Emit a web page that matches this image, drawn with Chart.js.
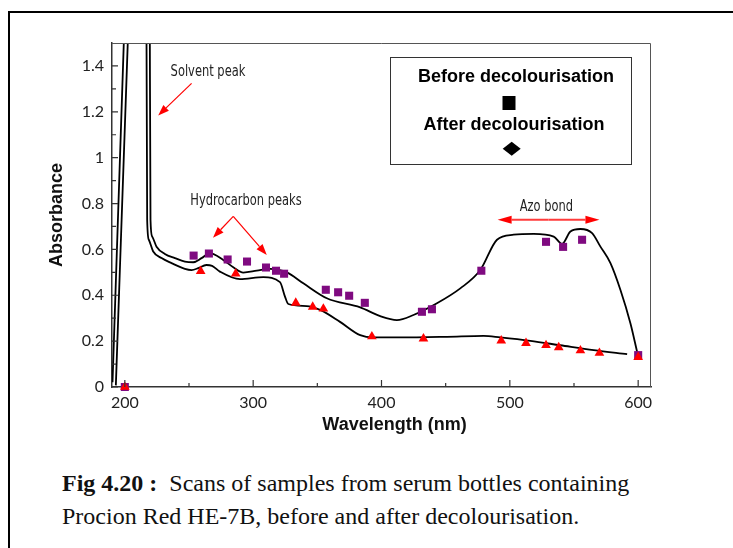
<!DOCTYPE html>
<html>
<head>
<meta charset="utf-8">
<title>Fig 4.20 - Procion Red HE-7B scans</title>
<script src="https://cdn.jsdelivr.net/npm/chart.js@4.4.0/dist/chart.umd.min.js"></script>
<style>
  body { margin: 0; background: #fff; width: 733px; height: 548px; overflow: hidden; position: relative; }
  #frame { position: absolute; left: 8px; top: 11px; width: 760px; height: 560px; border-left: 2px solid #000; border-top: 2px solid #000; }
  #scanChart { position: absolute; left: 0; top: 0; }
  .caption { position: absolute; left: 62px; font: 24px "Liberation Serif", "Times New Roman", serif; color: #111; line-height: 33px; white-space: nowrap; }
</style>
</head>
<body>
<div id="frame"></div>
<canvas id="scanChart" width="733" height="440"></canvas>
<div class="caption" style="top:467px"><b>Fig 4.20 :</b>&nbsp; Scans of samples from serum bottles containing</div>
<div class="caption" style="top:500px">Procion Red HE-7B, before and after decolourisation.</div>
<script>
// Axis ticks
const xTicks = [200, 300, 400, 500, 600];
const xMinorTicks = [250, 350, 450, 550];
const yTicks = [0, 0.2, 0.4, 0.6, 0.8, 1, 1.2, 1.4];
const yMinorTicks = [0.1, 0.3, 0.5, 0.7, 0.9, 1.1, 1.3];

// Scan traces (nm / absorbance); the solvent peak runs off the top of the scale
const beforeScanNm = [193.0, 202.3, 205.4, 212, 219.3, 219.5, 220.0, 221.3, 224.7, 231.2, 239.0, 246.8, 253.3, 259.8, 266.3, 276.7, 284.5, 292.3, 302.8, 313.1, 326.2, 339.1, 357.4, 383.4, 399.0, 412.0, 424.9, 443.2, 461.4, 477.0, 490.0, 503.0, 518.6, 534.2, 540.7, 547.2, 555.0, 564.1, 570.6, 578.4, 586.2, 594.0, 599.2];
const beforeScanAbs = [0.007, 1.503, 2.0, 2.6, 2.0, 1.487, 0.729, 0.656, 0.612, 0.580, 0.562, 0.547, 0.544, 0.562, 0.584, 0.554, 0.522, 0.499, 0.507, 0.515, 0.500, 0.452, 0.387, 0.347, 0.309, 0.292, 0.314, 0.365, 0.430, 0.510, 0.642, 0.664, 0.668, 0.656, 0.624, 0.678, 0.689, 0.671, 0.612, 0.540, 0.423, 0.277, 0.153];
const afterScanNm = [190.4, 199.2, 202.2, 209, 216.8, 216.9, 217.4, 218.7, 222.1, 228.6, 236.4, 246.8, 252.0, 257.2, 263.5, 268.0, 274.1, 289.7, 307.9, 320.9, 324.8, 327.4, 341.7, 352.1, 367.7, 383.4, 393.7, 414.6, 451.0, 479.6, 492.6, 516.0, 539.4, 565.4, 591.4];
const afterScanAbs = [0.021, 1.502, 2.0, 2.6, 2.0, 1.5, 0.729, 0.642, 0.591, 0.562, 0.540, 0.515, 0.510, 0.518, 0.532, 0.528, 0.503, 0.470, 0.479, 0.457, 0.394, 0.362, 0.353, 0.336, 0.284, 0.226, 0.216, 0.216, 0.219, 0.223, 0.216, 0.201, 0.182, 0.161, 0.143];

// Measured points
const beforePointNm = [200, 253.6, 265.5, 280.1, 295.2, 310.0, 317.8, 324.1, 356.6, 366.2, 374.8, 387.0, 431.5, 439.3, 477.8, 528.2, 541.5, 556.3, 600];
const beforePointAbs = [0, 0.573, 0.582, 0.556, 0.547, 0.521, 0.507, 0.494, 0.424, 0.413, 0.398, 0.367, 0.328, 0.339, 0.507, 0.633, 0.611, 0.642, 0.139];
const afterPointNm = [200, 259.1, 286.4, 333.2, 346.4, 354.7, 392.5, 432.7, 493.3, 512.6, 528.2, 538.1, 555.0, 569.8, 600];
const afterPointAbs = [0, 0.505, 0.494, 0.367, 0.349, 0.341, 0.220, 0.211, 0.202, 0.191, 0.182, 0.173, 0.159, 0.148, 0.130];

const toXY = (xs, ys) => xs.map((v, i) => ({ x: v, y: ys[i] }));

const labelFont = "'DejaVu Sans Condensed', 'Liberation Sans Narrow', sans-serif";
const boldFont = "'Liberation Sans', Arial, sans-serif";

// Helper: straight line with a filled head at (x2, y2)
function drawArrow(ctx, x1, y1, x2, y2, len, half) {
  const ang = Math.atan2(y2 - y1, x2 - x1);
  const bx = x2 - len * Math.cos(ang);
  const by = y2 - len * Math.sin(ang);
  ctx.beginPath();
  ctx.moveTo(x1, y1);
  ctx.lineTo(bx, by);
  ctx.stroke();
  ctx.beginPath();
  ctx.moveTo(x2, y2);
  ctx.lineTo(bx + half * Math.sin(ang), by - half * Math.cos(ang));
  ctx.lineTo(bx - half * Math.sin(ang), by + half * Math.cos(ang));
  ctx.closePath();
  ctx.fill();
}

// Helper: narrow note text (the original uses a condensed face)
function drawNote(ctx, text, x, y) {
  ctx.save();
  ctx.translate(x, y);
  ctx.scale(0.85, 1);
  ctx.fillText(text, 0, 0);
  ctx.restore();
}

// Frame, inward ticks, axis titles, notes and the boxed legend
const figureExtras = {
  id: "figureExtras",
  afterDraw(chart) {
    const { ctx, chartArea: a, scales: { x, y } } = chart;
    const px = (v) => x.getPixelForValue(v);
    const py = (v) => y.getPixelForValue(v);
    ctx.save();

    // top / right frame
    ctx.strokeStyle = "#555";
    ctx.lineWidth = 1;
    ctx.beginPath();
    ctx.moveTo(a.left, a.top + 0.5);
    ctx.lineTo(a.right - 0.5, a.top + 0.5);
    ctx.lineTo(a.right - 0.5, a.bottom);
    ctx.stroke();

    // ticks pointing into the plot
    ctx.strokeStyle = "#333";
    ctx.lineWidth = 1.2;
    ctx.beginPath();
    xTicks.forEach((v) => { ctx.moveTo(px(v), a.bottom); ctx.lineTo(px(v), a.bottom - 7); });
    xMinorTicks.forEach((v) => { ctx.moveTo(px(v), a.bottom); ctx.lineTo(px(v), a.bottom - 4); });
    yTicks.forEach((v) => { ctx.moveTo(a.left, py(v)); ctx.lineTo(a.left + 6, py(v)); });
    yMinorTicks.forEach((v) => { ctx.moveTo(a.left, py(v)); ctx.lineTo(a.left + 4, py(v)); });
    ctx.stroke();

    // axis titles
    ctx.fillStyle = "#111";
    ctx.font = "bold 18px " + boldFont;
    ctx.textAlign = "center";
    ctx.textBaseline = "middle";
    ctx.fillText("Wavelength (nm)", 394.5, 425);
    ctx.save();
    ctx.translate(57, (a.top + a.bottom) / 2);
    ctx.rotate(-Math.PI / 2);
    ctx.fillText("Absorbance", 0, 0);
    ctx.restore();

    // notes
    ctx.font = "15px " + labelFont;
    ctx.fillStyle = "#222";
    drawNote(ctx, "Solvent peak", px(264.8), py(1.372));
    drawNote(ctx, "Hydrocarbon peaks", px(294.4), py(0.812));
    drawNote(ctx, "Azo bond", px(528.5), py(0.786));

    ctx.strokeStyle = "#f00";
    ctx.fillStyle = "#f00";
    ctx.lineWidth = 1.2;
    drawArrow(ctx, px(252.0), py(1.324), px(226.0), py(1.184), 11, 4);
    drawArrow(ctx, px(284.5), py(0.744), px(268.7), py(0.651), 11, 4);
    drawArrow(ctx, px(284.5), py(0.744), px(310.6), py(0.576), 11, 4);
    ctx.strokeStyle = "#ff3b3b";
    ctx.lineWidth = 2;
    const azoMid = (px(490.5) + px(569.8)) / 2;
    drawArrow(ctx, azoMid, py(0.729), px(490.5), py(0.729), 14, 4);
    drawArrow(ctx, azoMid, py(0.729), px(569.8), py(0.729), 14, 4);

    // legend box
    ctx.strokeStyle = "#333";
    ctx.lineWidth = 1;
    ctx.strokeRect(390.5, 57.5, 241, 107);
    ctx.fillStyle = "#000";
    ctx.font = "bold 18px " + boldFont;
    ctx.fillText("Before decolourisation", 516, 77.5);
    ctx.fillText("After decolourisation", 514, 125.5);
    ctx.fillRect(502.5, 96, 13, 14);
    ctx.beginPath();
    ctx.moveTo(511.7, 141.8);
    ctx.lineTo(520.7, 148.8);
    ctx.lineTo(511.7, 155.8);
    ctx.lineTo(502.7, 148.8);
    ctx.closePath();
    ctx.fill();

    ctx.restore();
  },
};

const scanCtx = document.getElementById("scanChart").getContext("2d");
new Chart(scanCtx, {
  type: "scatter",
  data: {
    datasets: [
      {
        label: "Before decolourisation (scan)",
        data: toXY(beforeScanNm, beforeScanAbs),
        showLine: true,
        fill: false,
        borderColor: "#000",
        borderWidth: 1.8,
        pointRadius: 0,
        cubicInterpolationMode: "monotone",
        order: 3,
      },
      {
        label: "After decolourisation (scan)",
        data: toXY(afterScanNm, afterScanAbs),
        showLine: true,
        fill: false,
        borderColor: "#000",
        borderWidth: 1.8,
        pointRadius: 0,
        cubicInterpolationMode: "monotone",
        order: 3,
      },
      {
        label: "Before decolourisation",
        data: toXY(beforePointNm, beforePointAbs),
        pointStyle: "rect",
        pointRadius: 5.7,
        pointBackgroundColor: "#7f0a80",
        pointBorderWidth: 0,
        clip: false,
        order: 2,
      },
      {
        label: "After decolourisation",
        data: toXY(afterPointNm, afterPointAbs),
        pointStyle: "triangle",
        pointRadius: 5.6,
        pointBackgroundColor: "#ff0000",
        pointBorderWidth: 0,
        clip: false,
        order: 1,
      },
    ],
  },
  options: {
    responsive: false,
    animation: false,
    devicePixelRatio: 1,
    events: [],
    layout: { padding: { left: 0, top: 43, right: 82, bottom: 0 } },
    plugins: { legend: { display: false }, tooltip: { enabled: false } },
    scales: {
      x: {
        type: "linear",
        min: 190,
        max: 610,
        afterBuildTicks: (scale) => { scale.ticks = xTicks.map((v) => ({ value: v })); },
        afterFit: (scale) => { scale.height = 53; },
        grid: { display: false, drawTicks: false },
        border: { color: "#333", width: 1.5 },
        ticks: { color: "#222", font: { family: "Lato", size: 16 }, padding: 6, maxRotation: 0, autoSkip: false, callback: (v) => String(v) },
      },
      y: {
        type: "linear",
        min: 0,
        max: 1.5,
        afterBuildTicks: (scale) => { scale.ticks = yTicks.map((v) => ({ value: v })); },
        afterFit: (scale) => { scale.width = 112; },
        grid: { display: false, drawTicks: false },
        border: { color: "#333", width: 1.5 },
        ticks: { color: "#222", font: { family: "Lato", size: 16 }, padding: 8, autoSkip: false, callback: (v) => String(Number(v.toFixed(1))) },
      },
    },
  },
  plugins: [figureExtras],
});
</script>
</body>
</html>
